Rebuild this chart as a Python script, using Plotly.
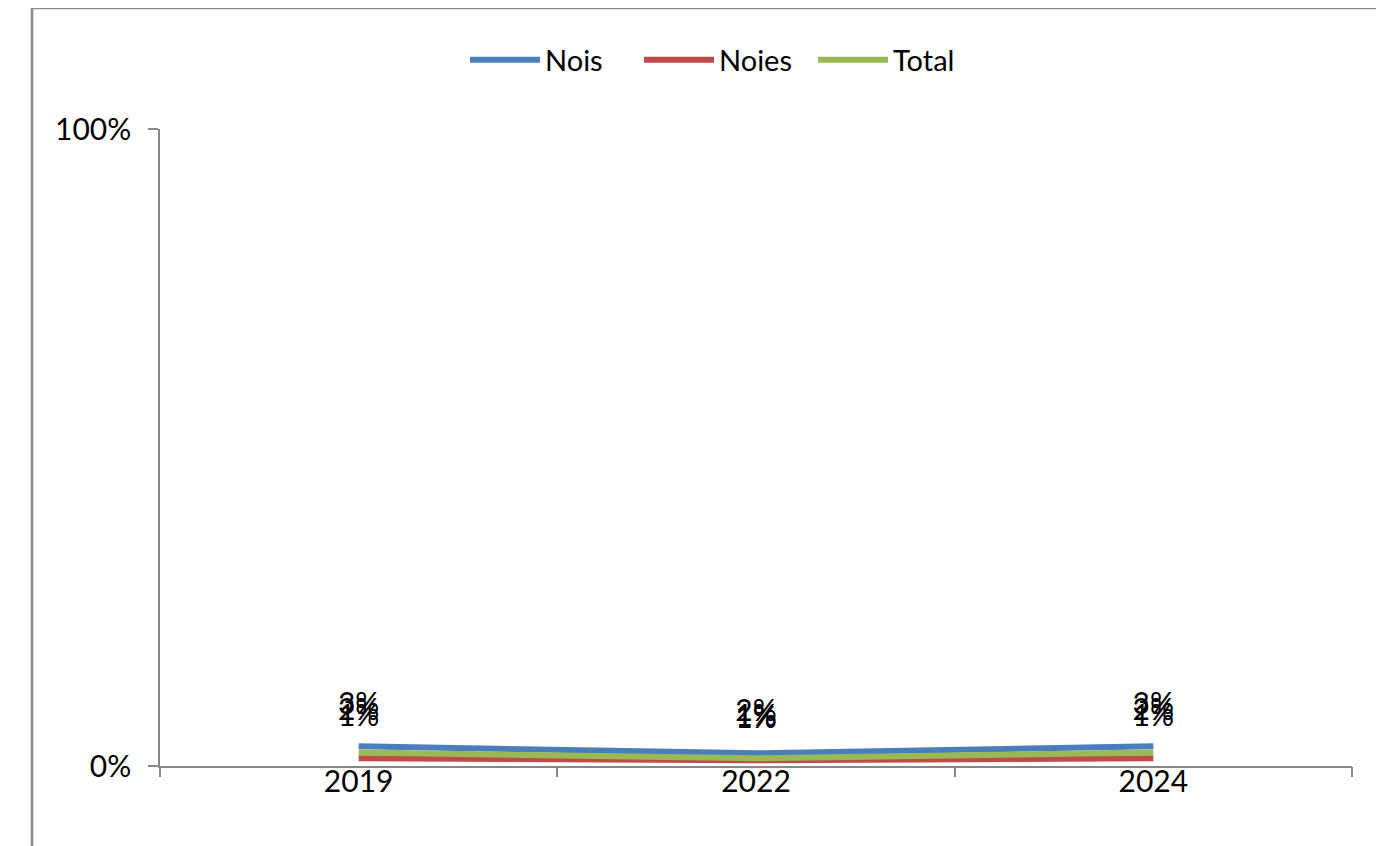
import plotly.graph_objects as go

years = ["2019", "2022", "2024"]
series_names = ["Nois", "Noies", "Total"]
nois = [0.031, 0.020, 0.031]
noies = [0.012, 0.009, 0.012]
total = [0.021, 0.012, 0.021]
labels_nois = ["3%", "2%", "3%"]
labels_noies = ["1%", "1%", "1%"]
labels_total = ["2%", "1%", "2%"]
y_ticks = [0, 1]
y_tick_labels = ["0%", "100%"]

colors = ["#4a7ebb", "#be4b48", "#98b954"]
values = [nois, noies, total]
labels = [labels_nois, labels_noies, labels_total]

FONT = "Lato, Carlito, Calibri, sans-serif"
FS = 30

fig = go.Figure()
for name, vals, col in zip(series_names, values, colors):
    fig.add_trace(go.Scatter(x=years, y=vals, name=name, mode="lines",
                             line=dict(color=col, width=6), hoverinfo="skip"))

# data labels, placed above each point
for vals, labs in zip(values, labels):
    fig.add_trace(go.Scatter(x=years, y=vals, mode="markers+text", text=labs,
                             textposition="top center",
                             textfont=dict(family=FONT, size=FS, color="#000000"),
                             marker=dict(size=38, color="rgba(0,0,0,0)"),
                             showlegend=False, hoverinfo="skip", cliponaxis=False))

n = len(years)
boundaries = [i - 0.5 for i in range(n + 1)]
# invisible helper trace so the boundary-tick axis is drawn
fig.add_trace(go.Scatter(x=boundaries, y=[0] * len(boundaries), xaxis="x2",
                         mode="markers", marker=dict(size=1, color="rgba(0,0,0,0)"),
                         showlegend=False, hoverinfo="skip"))

# page has an 8px body margin
OFF = 8
W, H = 1384 - OFF, 846 - OFF
L, R, T, B = 160 - OFF, 32, 129 - OFF, 80
pw, ph = W - L - R, H - T - B

def px_to_paper_x(px):
    return (px - OFF - L) / pw

def px_to_paper_y(py):
    return (H - B - (py - OFF)) / ph

fig.update_layout(
    width=W, height=H,
    margin=dict(l=L, r=R, t=T, b=B, pad=0),
    paper_bgcolor="white", plot_bgcolor="white",
    font=dict(family=FONT, size=FS, color="#000000"),
    showlegend=True,
    legend=dict(orientation="h", x=px_to_paper_x(465), xanchor="left",
                y=px_to_paper_y(60), yanchor="middle",
                font=dict(family=FONT, size=FS - 1, color="#000000"),
                itemwidth=70, entrywidth=89, tracegroupgap=0,
                bgcolor="rgba(0,0,0,0)"),
    shapes=[dict(type="rect", xref="paper", yref="paper",
                 x0=px_to_paper_x(32), x1=px_to_paper_x(1384 + 20),
                 y0=px_to_paper_y(846 + 20), y1=px_to_paper_y(8),
                 line=dict(color="#878787", width=2.5), fillcolor="rgba(0,0,0,0)",
                 layer="below")],
    xaxis=dict(type="category", range=[-0.5, n - 0.5], showgrid=False,
               showline=True, linecolor="#878787", linewidth=1.5,
               ticks="", ticklabelstandoff=-12,
               tickfont=dict(family=FONT, size=FS, color="#000000"),
               zeroline=False, fixedrange=True),
    xaxis2=dict(overlaying="x", anchor="y", side="bottom", range=[-0.5, n - 0.5],
                tickvals=boundaries, showticklabels=False, showgrid=False,
                showline=False, ticks="outside", ticklen=10, tickcolor="#878787",
                tickwidth=1.5, zeroline=False, fixedrange=True),
    yaxis=dict(range=[0, 1], tickvals=y_ticks, ticktext=y_tick_labels,
               showgrid=False, showline=True, linecolor="#878787", linewidth=1.5,
               ticks="outside", ticklen=10, tickcolor="#878787", tickwidth=1.5,
               ticklabelstandoff=11, zeroline=False,
               tickfont=dict(family=FONT, size=FS, color="#000000"), fixedrange=True),
)

fig.write_html("out.html")
